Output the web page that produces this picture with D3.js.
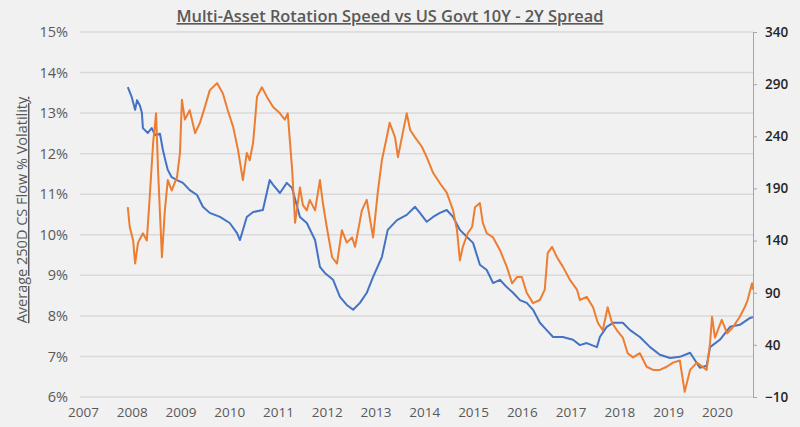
<!DOCTYPE html>
<html>
<head>
<meta charset="utf-8">
<script src="https://cdn.jsdelivr.net/npm/d3@7/dist/d3.min.js"></script>
<style>
  html, body { margin: 0; padding: 0; background: #f1f1f1; }
  svg { display: block; }
</style>
</head>
<body>
<svg id="chart" width="800" height="427"></svg>
<script>
// ---- Data ----
const yearTicks = [2007, 2008, 2009, 2010, 2011, 2012, 2013, 2014, 2015, 2016, 2017, 2018, 2019, 2020];
const leftTicks = [0.06, 0.07, 0.08, 0.09, 0.10, 0.11, 0.12, 0.13, 0.14, 0.15];
const rightTicks = [-10, 40, 90, 140, 190, 240, 290, 340];

// Multi-Asset Rotation Speed (Average 250D CS Flow % Volatility), in %
const rotationDates = [2007.92, 2008.00, 2008.07, 2008.11, 2008.17, 2008.21, 2008.23, 2008.33, 2008.41, 2008.48,
  2008.58, 2008.64, 2008.70, 2008.74, 2008.82, 2008.93, 2009.05, 2009.19, 2009.34, 2009.46,
  2009.60, 2009.81, 2010.01, 2010.16, 2010.22, 2010.36, 2010.49, 2010.69, 2010.83, 2010.90,
  2011.04, 2011.18, 2011.29, 2011.45, 2011.59, 2011.76, 2011.86, 2011.96, 2012.13, 2012.27,
  2012.41, 2012.54, 2012.68, 2012.82, 2012.95, 2013.13, 2013.25, 2013.44, 2013.64, 2013.81,
  2013.91, 2014.05, 2014.18, 2014.32, 2014.46, 2014.59, 2014.73, 2014.87, 2015.00, 2015.14,
  2015.28, 2015.41, 2015.55, 2015.69, 2015.82, 2015.96, 2016.10, 2016.23, 2016.37, 2016.51,
  2016.64, 2016.84, 2017.05, 2017.19, 2017.33, 2017.54, 2017.60, 2017.74, 2017.87, 2018.07,
  2018.22, 2018.42, 2018.63, 2018.83, 2019.04, 2019.24, 2019.45, 2019.65, 2019.79, 2019.86,
  2020.06, 2020.27, 2020.47, 2020.68, 2020.74];
const rotationValues = [13.64, 13.40, 13.08, 13.32, 13.18, 13.00, 12.63, 12.51, 12.63, 12.46,
  12.49, 12.09, 11.79, 11.60, 11.42, 11.35, 11.28, 11.10, 10.98, 10.69,
  10.54, 10.44, 10.29, 10.04, 9.87, 10.44, 10.56, 10.61, 11.35, 11.23,
  11.03, 11.28, 11.15, 10.44, 10.29, 9.87, 9.21, 9.06, 8.89, 8.47,
  8.27, 8.15, 8.32, 8.57, 8.96, 9.45, 10.12, 10.36, 10.49, 10.69,
  10.54, 10.32, 10.44, 10.54, 10.61, 10.44, 10.12, 9.95, 9.80, 9.26,
  9.13, 8.81, 8.89, 8.71, 8.57, 8.39, 8.32, 8.15, 7.83, 7.65,
  7.48, 7.48, 7.41, 7.28, 7.33, 7.23, 7.48, 7.73, 7.83, 7.83,
  7.65, 7.48, 7.23, 7.04, 6.96, 6.99, 7.09, 6.72, 6.77, 7.23,
  7.41, 7.73, 7.78, 7.95, 7.97];

// US Govt 10Y - 2Y spread, in bp
const spreadDates = [2007.92, 2007.96, 2008.03, 2008.07, 2008.13, 2008.23, 2008.31, 2008.37, 2008.44, 2008.50,
  2008.54, 2008.62, 2008.68, 2008.74, 2008.82, 2008.93, 2008.99, 2009.03, 2009.09, 2009.19,
  2009.30, 2009.40, 2009.50, 2009.60, 2009.75, 2009.87, 2009.97, 2010.08, 2010.18, 2010.28,
  2010.36, 2010.42, 2010.49, 2010.57, 2010.67, 2010.77, 2010.90, 2011.04, 2011.14, 2011.20,
  2011.29, 2011.35, 2011.45, 2011.51, 2011.59, 2011.65, 2011.76, 2011.86, 2011.92, 2012.00,
  2012.11, 2012.21, 2012.31, 2012.41, 2012.52, 2012.58, 2012.72, 2012.82, 2012.95, 2013.05,
  2013.13, 2013.23, 2013.29, 2013.40, 2013.46, 2013.54, 2013.64, 2013.71, 2013.81, 2013.95,
  2014.05, 2014.18, 2014.32, 2014.46, 2014.59, 2014.67, 2014.73, 2014.79, 2014.89, 2014.98,
  2015.04, 2015.14, 2015.20, 2015.28, 2015.41, 2015.55, 2015.69, 2015.80, 2015.90, 2016.00,
  2016.10, 2016.23, 2016.37, 2016.47, 2016.53, 2016.62, 2016.72, 2016.84, 2016.99, 2017.13,
  2017.19, 2017.33, 2017.46, 2017.56, 2017.66, 2017.76, 2017.85, 2017.95, 2018.07, 2018.17,
  2018.28, 2018.42, 2018.56, 2018.69, 2018.83, 2018.97, 2019.10, 2019.24, 2019.28, 2019.34,
  2019.45, 2019.59, 2019.79, 2019.86, 2019.90, 2019.96, 2020.10, 2020.21, 2020.33, 2020.47,
  2020.57, 2020.63, 2020.72, 2020.74];
const spreadValues = [172, 153, 140, 118, 138, 147, 140, 182, 234, 262,
  208, 124, 169, 198, 188, 201, 224, 275, 256, 265,
  243, 253, 268, 284, 291, 281, 265, 249, 227, 198,
  224, 217, 234, 278, 287, 278, 268, 262, 256, 262,
  208, 157, 191, 174, 169, 179, 169, 198, 176, 153,
  124, 118, 150, 138, 143, 134, 169, 179, 143, 188,
  217, 239, 253, 239, 220, 239, 262, 246, 239, 230,
  220, 205, 195, 186, 169, 150, 121, 134, 147, 153,
  172, 176, 157, 147, 143, 131, 115, 99, 105, 105,
  90, 80, 83, 93, 128, 134, 124, 115, 102, 93,
  83, 86, 76, 61, 54, 76, 61, 54, 47, 32,
  28, 32, 19, 16, 16, 19, 23, 25, 13, -5,
  16, 23, 16, 42, 67, 47, 64, 51, 57, 67,
  76, 83, 99, 93];

// ---- Layout ----
const svg = d3.select("#chart");
const W = 800, H = 427;
const mLeft = 80, mRight = 753, mTop = 32, mBottom = 397;

svg.append("rect").attr("width", W).attr("height", H).attr("fill", "#f1f1f1");

const x = d3.scaleLinear().domain([2006.94, 2020.74]).range([mLeft, mRight]);
const yL = d3.scaleLinear().domain([0.06, 0.15]).range([mBottom, mTop]);
const yR = d3.scaleLinear().domain([-10, 340]).range([mBottom, mTop]);

const font = "'Open Sans', 'Noto Sans', sans-serif";

// Gridlines (left axis)
svg.append("g").selectAll("line").data(leftTicks).join("line")
  .attr("x1", mLeft).attr("x2", mRight)
  .attr("y1", d => yL(d)).attr("y2", d => yL(d))
  .attr("stroke", "#d9d9d9").attr("stroke-width", 1.5);

// Left axis
const gL = svg.append("g").attr("transform", `translate(${mLeft},0)`)
  .call(d3.axisLeft(yL).tickValues(leftTicks).tickFormat(d3.format(".0%")).tickSize(0).tickPadding(12));
gL.select(".domain").remove();
gL.selectAll("text").attr("font-family", font).attr("font-size", 14.5).attr("fill", "#595959");

// Right axis
const gR = svg.append("g").attr("transform", `translate(${mRight},0)`)
  .call(d3.axisRight(yR).tickValues(rightTicks).tickSize(4).tickPadding(8));
gR.select(".domain").attr("stroke", "#a6a6a6");
gR.selectAll(".tick line").attr("stroke", "#a6a6a6");
gR.selectAll("text").attr("font-family", font).attr("font-size", 13.5).attr("font-weight", 600).attr("fill", "#262626");

// Bottom axis
const gB = svg.append("g").attr("transform", `translate(0,${mBottom})`)
  .call(d3.axisBottom(x).tickValues(yearTicks).tickFormat(d3.format("d")).tickSize(0).tickPadding(10));
gB.select(".domain").remove();
gB.selectAll("text").attr("font-family", font).attr("font-size", 13.5).attr("fill", "#595959");

// Lines
const rotation = rotationDates.map((d, i) => ({ t: d, v: rotationValues[i] / 100 }));
const spread = spreadDates.map((d, i) => ({ t: d, v: spreadValues[i] }));

svg.append("path").datum(rotation)
  .attr("fill", "none").attr("stroke", "#4472C4").attr("stroke-width", 2).attr("stroke-linejoin", "round")
  .attr("d", d3.line().x(d => x(d.t)).y(d => yL(d.v)));

svg.append("path").datum(spread)
  .attr("fill", "none").attr("stroke", "#ED7D31").attr("stroke-width", 2).attr("stroke-linejoin", "round")
  .attr("d", d3.line().x(d => x(d.t)).y(d => yR(d.v)));

// Title
svg.append("text").attr("x", 390).attr("y", 22).attr("text-anchor", "middle")
  .attr("font-family", font).attr("font-size", 16.4).attr("font-weight", 600).attr("fill", "#595959")
  .attr("text-decoration", "underline")
  .text("Multi-Asset Rotation Speed vs US Govt 10Y - 2Y Spread");

// Y axis title
svg.append("text").attr("transform", "translate(27,210) rotate(-90)").attr("text-anchor", "middle")
  .attr("font-family", font).attr("font-size", 14.5).attr("fill", "#595959")
  .attr("text-decoration", "underline")
  .text("Average 250D CS Flow % Volatility");
</script>
</body>
</html>
